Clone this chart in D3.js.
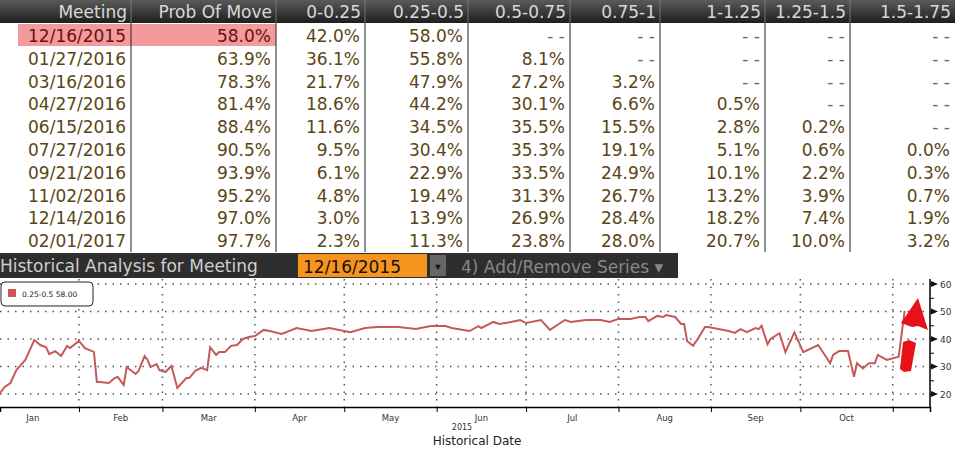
<!DOCTYPE html>
<html><head><meta charset="utf-8">
<script src="https://cdn.jsdelivr.net/npm/d3@7"></script>
<style>body{margin:0;background:#fff}svg{display:block}</style>
</head><body><svg id="c" width="955" height="451"></svg>
<script>
const headers=["Meeting","Prob Of Move","0-0.25","0.25-0.5","0.5-0.75","0.75-1","1-1.25","1.25-1.5","1.5-1.75"];
const meetings=["12/16/2015","01/27/2016","03/16/2016","04/27/2016","06/15/2016","07/27/2016","09/21/2016","11/02/2016","12/14/2016","02/01/2017"];
const probMove=[58.0,63.9,78.3,81.4,88.4,90.5,93.9,95.2,97.0,97.7];
const rateProbs=[
[42.0,58.0,null,null,null,null,null],
[36.1,55.8,8.1,null,null,null,null],
[21.7,47.9,27.2,3.2,null,null,null],
[18.6,44.2,30.1,6.6,0.5,null,null],
[11.6,34.5,35.5,15.5,2.8,0.2,null],
[9.5,30.4,35.3,19.1,5.1,0.6,0.0],
[6.1,22.9,33.5,24.9,10.1,2.2,0.3],
[4.8,19.4,31.3,26.7,13.2,3.9,0.7],
[3.0,13.9,26.9,28.4,18.2,7.4,1.9],
[2.3,11.3,23.8,28.0,20.7,10.0,3.2]];
// history of 0.25-0.5 bucket, day of year 2015
const histDay=[5,7,9,11,14,17,19,21,22,24,26,28,29,32,34,37,38,39,42,44,45,47,48,51,52,54,55,56,58,59,61,63,65,68,69,71,73,75,76,78,79,81,83,85,87,89,91,94,96,100,105,110,116,123,128,132,139,145,150,155,157,163,166,167,171,173,177,180,182,187,190,195,197,202,207,210,213,217,220,222,223,226,228,229,232,234,235,236,238,240,242,243,250,252,254,256,259,260,261,263,264,267,269,272,274,275,280,284,285,287,290,292,293,295,297,299,300,303,307,309];
const histVal=[19.6,22.5,24,28.7,32.4,39.6,37.8,37,34.5,35.6,33.8,37.5,36.7,39.3,36.7,35.3,24.4,24.4,24,25.8,26.2,23.3,29.8,27.3,28.4,33.8,32.4,29.8,30.9,28.7,28,30.2,22.2,25.8,25.8,28.4,29.5,28.7,37,34.2,35.3,35.3,37.5,37.8,40,40.7,41.1,43.3,42.9,41.8,44,42.9,44,42.5,44,44.4,44.4,43.6,44.7,44.7,44,42.9,44.7,44,46.2,45.5,46.2,46.9,45.8,46.9,43.3,46.9,46.2,46.9,46.9,46.2,47.3,47.3,48,48,46.5,48.4,48,48.7,48,45.5,45.5,39.3,37.5,40.7,44.4,44.4,42.9,42.2,43.6,42.5,44,43.6,44.8,38.1,40,42.1,35.2,42.4,37.6,35.2,37.8,31.2,34.2,35.6,35.6,26.3,31.2,29.3,31.2,31.2,34.2,32.4,33.6,50.2,50.2,58.2];
const monthLabels=["Jan","Feb","Mar","Apr","May","Jun","Jul","Aug","Sep","Oct"];
const yTicks=[20,30,40,50,60];

const svg=d3.select("#c");
const F="DejaVu Sans";
const colEdges=[0,131,276,365,468,570,660,765,850,955];
const defs=svg.append("defs");
const g1=defs.append("linearGradient").attr("id","hg").attr("x1",0).attr("y1",0).attr("x2",0).attr("y2",1);
g1.append("stop").attr("offset",0).attr("stop-color","#5a5a5a");
g1.append("stop").attr("offset",1).attr("stop-color","#1e1e1e");
svg.append("rect").attr("x",0).attr("y",0).attr("width",955).attr("height",23).attr("fill","url(#hg)");
headers.forEach((h,i)=>{
  svg.append("text").attr("x",colEdges[i+1]-4).attr("y",18).attr("text-anchor","end")
   .attr("font-family",F).attr("font-size",17).attr("fill","#d8d8d8").text(h);
  if(i>0) svg.append("line").attr("x1",colEdges[i]).attr("x2",colEdges[i]).attr("y1",0).attr("y2",23).attr("stroke","#777");
});
const rowY=i=>24+i*22.8;
svg.append("rect").attr("x",18).attr("y",rowY(0)).attr("width",258).attr("height",22).attr("fill","#f29a9c");
colEdges.slice(1,-1).forEach(x=>svg.append("line").attr("x1",x).attr("x2",x).attr("y1",23).attr("y2",252).attr("stroke","#222").attr("stroke-width",1));
meetings.forEach((m,i)=>{
  const cells=[m,probMove[i].toFixed(1)+"%"].concat(rateProbs[i].map(v=>v==null?"- -":v.toFixed(1)+"%"));
  cells.forEach((t,j)=>{
    svg.append("text").attr("x",colEdges[j+1]-5).attr("y",rowY(i)+18).attr("text-anchor","end")
     .attr("font-family",F).attr("font-size",17).attr("fill",(i==0&&j<2)?"#6a1010":(t=="- -"?"#7a6a40":"#5a4614")).text(t);
  });
});
svg.append("rect").attr("x",0).attr("y",253).attr("width",678).attr("height",25).attr("fill","#2e2e2e");
svg.append("text").attr("x",0).attr("y",272).attr("font-family",F).attr("font-size",17).attr("fill","#cfcfcf").text("Historical Analysis for Meeting");
svg.append("rect").attr("x",298).attr("y",254).attr("width",129).attr("height",23).attr("fill","#f7941d");
svg.append("text").attr("x",303).attr("y",273).attr("font-family",F).attr("font-size",17).attr("fill","#111").text("12/16/2015");
svg.append("rect").attr("x",430).attr("y",255).attr("width",16).attr("height",21).attr("fill","#666");
svg.append("text").attr("x",438).attr("y",270).attr("text-anchor","middle").attr("font-size",9).attr("fill","#111").text("▼");
svg.append("text").attr("x",461).attr("y",273).attr("font-family",F).attr("font-size",17).attr("fill","#888").text("4) Add/Remove Series ▾");
const t0=new Date(2015,0,1);
const dayDate=d=>d3.timeDay.offset(t0,d-1);
const x=d3.scaleTime().domain([new Date(2015,0,5,12),new Date(2015,10,13,12)]).range([0,930]);
const y=d3.scaleLinear().domain([20,60]).range([394,284]);
const yTop=279,yBot=407;
const months=d3.range(1,11).map(m=>new Date(2015,m,1));
const dot="1.5,6";
yTicks.forEach(v=>svg.append("line").attr("x1",0).attr("x2",930).attr("y1",y(v)).attr("y2",y(v)).attr("stroke","#555").attr("stroke-width",1.5).attr("stroke-dasharray",dot));
months.forEach(m=>svg.append("line").attr("x1",x(m)).attr("x2",x(m)).attr("y1",yTop).attr("y2",yBot).attr("stroke","#555").attr("stroke-width",1.5).attr("stroke-dasharray",dot));
const xa=svg.append("g").attr("transform",`translate(0,${yBot})`).call(d3.axisBottom(x).tickValues(months).tickSize(5).tickFormat(""));
xa.select(".domain").attr("stroke","#000").attr("stroke-width",1.5);
monthLabels.forEach((l,i)=>{
  const a=new Date(2015,i,1),b=new Date(2015,i+1,1);
  svg.append("text").attr("x",x(new Date((+a + +b)/2))).attr("y",421).attr("text-anchor","middle")
   .attr("font-family",F).attr("font-size",8.5).attr("fill","#333").text(l);
});
svg.append("text").attr("x",462).attr("y",430).attr("text-anchor","middle").attr("font-family",F).attr("font-size",8).attr("fill","#333").text("2015");
svg.append("text").attr("x",477).attr("y",445).attr("text-anchor","middle").attr("font-family",F).attr("font-size",12).attr("fill","#222").text("Historical Date");
const ya=svg.append("g").attr("transform","translate(930,0)").call(d3.axisRight(y).tickValues(d3.range(20,61,5)).tickSize(4).tickFormat(""));
ya.select(".domain").attr("d",`M0,${yTop}V${yBot}`).attr("stroke","#000").attr("stroke-width",1.5);
yTicks.forEach(v=>{
  svg.append("path").attr("d",`M931,${y(v)-3}L938,${y(v)}L931,${y(v)+3}Z`).attr("fill","#111");
  svg.append("text").attr("x",940).attr("y",y(v)+3.5).attr("font-family",F).attr("font-size",9).attr("fill","#333").text(v);
});
const pts=histDay.map((d,i)=>[dayDate(d),histVal[i]]);
svg.append("path").datum(pts).attr("fill","none").attr("stroke","#c45a5a").attr("stroke-width",2)
 .attr("d",d3.line().x(p=>x(p[0])).y(p=>y(p[1])));
svg.append("rect").attr("x",1).attr("y",282).attr("width",92).attr("height",24).attr("rx",4).attr("fill","#fff").attr("stroke","#222");
svg.append("rect").attr("x",8).attr("y",289).attr("width",8).attr("height",8).attr("fill","#d05555");
svg.append("text").attr("x",22).attr("y",297).attr("font-family",F).attr("font-size",7.5).attr("fill","#222").text("0.25-0.5  58.00");
svg.append("path").attr("d","M900,369 L904,372 L911,371 L916,343 L909,340 L903,342 Z").attr("fill","#e8101a");
svg.append("path").attr("d","M901,323 L918,298 L928,330 L918,326 L912,327 Z").attr("fill","#e8101a");
</script></body></html>
